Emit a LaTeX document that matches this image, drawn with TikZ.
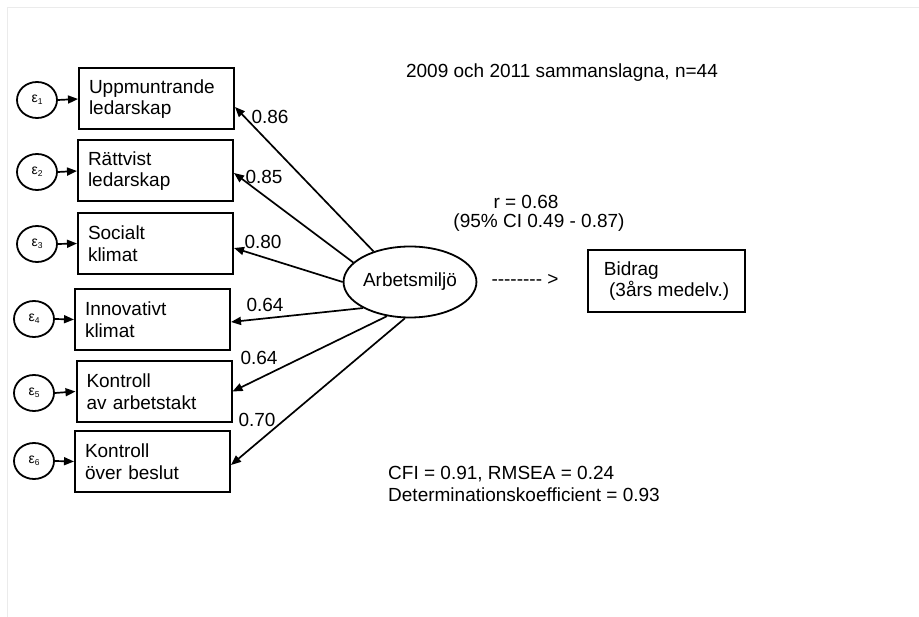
\documentclass[tikz,border=0pt]{standalone}
\usepackage{fontspec}
\setmainfont{Liberation Sans}
\usetikzlibrary{arrows.meta}
\usetikzlibrary{positioning}
\usetikzlibrary{shapes}

% small epsilon with index for the error terms
\newcommand{\epslabel}[1]{{\fontsize{14}{14}\selectfont ε\raisebox{-2pt}{\fontsize{8.5}{8.5}\selectfont #1}}}

\begin{document}
\begin{tikzpicture}[x=1pt, y=-1pt]
    \tikzset{
        every node/.style={font=\fontsize{19}{21.5}\selectfont},
        indicator/.style={draw, line width=2pt, minimum width=155pt, minimum height=61pt, text width=135pt, inner xsep=10pt, align=left},
        latent/.style={draw, ellipse, line width=1.8pt, minimum width=116pt, minimum height=71pt, inner sep=0pt},
        errorterm/.style={draw, ellipse, line width=1.8pt, minimum width=40pt, minimum height=36pt, inner sep=0pt},
        loading/.style={-{Triangle[length=10pt,width=8pt]}, line width=1.7pt}
    }

    \useasboundingbox (0,0) rectangle (919,617);
    % faint frame of the page
    \draw[black!8, line width=0.8pt] (7,617) -- (7,7) -- (919,7);

    % draw indicators
    \node[indicator] (b1) at (156.5,99) {Uppmuntrande\\ledarskap};
    \node[indicator] (b2) at (155.5,171) {Rättvist\\ledarskap};
    \node[indicator] (b3) at (155.5,243.5) {Socialt\\klimat};
    \node[indicator] (b4) at (152.5,319.5) {Innovativt\\klimat};
    \node[indicator] (b5) at (154,391.5) {Kontroll\\av arbetstakt};
    \node[indicator] (b6) at (152.5,461.5) {Kontroll\\över beslut};

    % draw error terms
    \node[errorterm] (e1) at (37,100) {\epslabel{1}};
    \node[errorterm] (e2) at (37,172) {\epslabel{2}};
    \node[errorterm] (e3) at (37,244) {\epslabel{3}};
    \node[errorterm] (e4) at (34,319) {\epslabel{4}};
    \node[errorterm] (e5) at (34,393) {\epslabel{5}};
    \node[errorterm] (e6) at (34,461) {\epslabel{6}};

    \draw[loading] (e1.east) -- (b1.west);
    \draw[loading] (e2.east) -- (b2.west);
    \draw[loading] (e3.east) -- (b3.west);
    \draw[loading] (e4.east) -- (b4.west);
    \draw[loading] (e5.east) -- (b5.west);
    \draw[loading] (e6.east) -- (b6.west);

    % draw latent variable and loadings
    \node[latent] (lat) at (410,282) {Arbetsmiljö};
    \draw[loading] (lat.140.8) -- ([yshift=-8pt]b1.east);
    \draw[loading] (lat.161.9) -- ([yshift=-2pt]b2.east);
    \draw[loading] (lat.180) -- ([yshift=-4.5pt]b3.east);
    \draw[loading] (lat.209) -- ([yshift=-2.5pt]b4.east);
    \draw[loading] (lat.236.7) -- (b5.east);
    \draw[loading] (lat.262.5) -- ([yshift=-3.5pt]b6.east);

    \node (l1) at (270,117) {0.86};
    \node (l2) at (264,177) {0.85};
    \node (l3) at (263,242) {0.80};
    \node (l4) at (265,305) {0.64};
    \node (l5) at (259,358) {0.64};
    \node (l6) at (257,420) {0.70};

    % outcome
    \node (title) at (562,73) {2009 och 2011 sammanslagna, n=44};
    \node (r) at (526,202) {r = 0.68};
    \node (ci) at (539,223) {(95\% CI 0.49 - 0.87)};
    \node (dash) at (525,280) {\mbox{-}\mbox{-}\mbox{-}\mbox{-}\mbox{-}\mbox{-}\mbox{-}\mbox{-} >};
    \node[draw, line width=2pt, minimum width=157pt, minimum height=62pt, inner xsep=0pt, align=left] (bidrag) at (666.5,281) {Bidrag\\~(3års medelv.)};

    % fit indices
    \node[anchor=west, align=left, inner sep=0pt] (fit) at (388,484) {CFI = 0.91, RMSEA = 0.24\\Determinationskoefficient = 0.93};
\end{tikzpicture}
\end{document}
